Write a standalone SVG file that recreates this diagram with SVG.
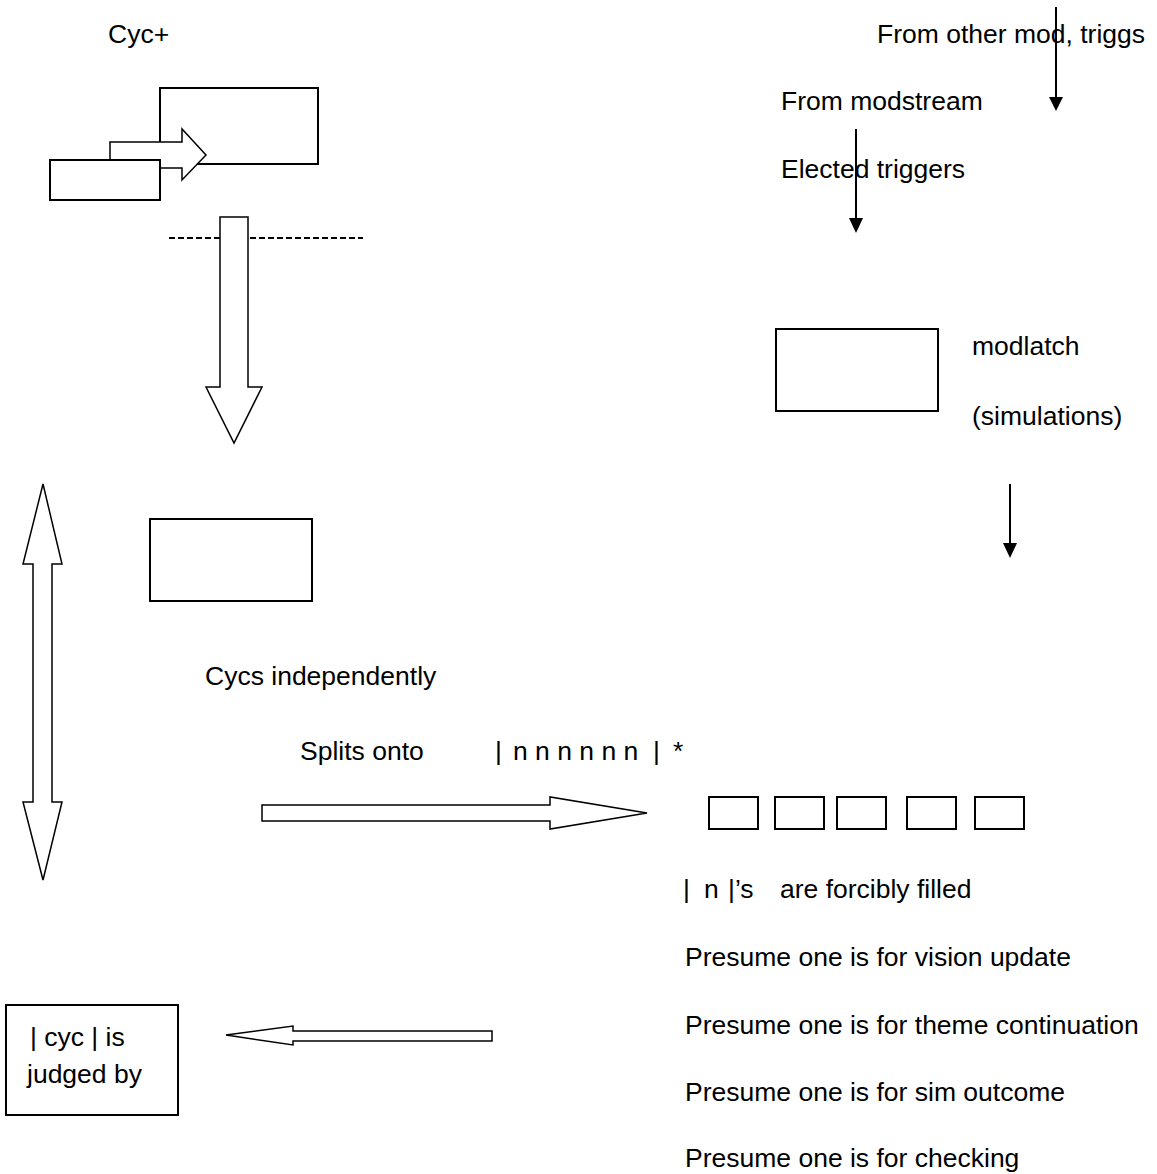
<svg xmlns="http://www.w3.org/2000/svg" width="1157" height="1174" viewBox="0 0 1157 1174">
<style>
  text { font-family: "Liberation Sans", Arial, sans-serif; font-size: 26.5px; fill: #000; }
  .box { fill: #fff; stroke: #000; stroke-width: 2; }
  .block { fill: #fff; stroke: #000; stroke-width: 1.5; stroke-linejoin: miter; }
  .thin { stroke: #000; stroke-width: 2; fill: none; }
  .head { fill: #000; stroke: none; }
  .dash { stroke: #000; stroke-width: 2; stroke-dasharray: 6 3; fill: none; }
</style>
<rect width="1157" height="1174" fill="#fff"/>

<g id="label-cyc-plus"><text x="108" y="43">Cyc+</text></g>

<g id="cyc-block">
  <rect class="box" x="160" y="88" width="158" height="76"/>
  <path class="block" d="M110,168 L110,142 L182,142 L182,129 L206,155 L182,180 L182,168 Z"/>
  <rect class="box" x="50" y="160" width="110" height="40"/>
</g>

<g id="dashed-divider">
  <line class="dash" x1="169" y1="238" x2="363" y2="238"/>
</g>

<g id="mid-box"><rect class="box" x="150" y="519" width="162" height="82"/></g>

<g id="modlatch">
  <rect class="box" x="776" y="329" width="162" height="82"/>
  <text x="972" y="355">modlatch</text>
  <text x="972" y="425">(simulations)</text>
</g>

<g id="labels-top-right">
  <text x="877" y="43">From other mod, triggs</text>
  <text x="781" y="110">From modstream</text>
  <text x="781" y="178">Elected triggers</text>
</g>

<g id="labels-middle">
  <text x="205" y="685">Cycs independently</text>
  <text x="300" y="760">Splits onto</text>
  <text y="760"><tspan x="495">|</tspan><tspan x="513">n n n n n n</tspan><tspan x="653">|</tspan><tspan x="673">*</tspan></text>
</g>

<g id="slots">
  <rect class="box" x="709" y="797" width="49" height="32"/>
  <rect class="box" x="775" y="797" width="49" height="32"/>
  <rect class="box" x="837" y="797" width="49" height="32"/>
  <rect class="box" x="907" y="797" width="49" height="32"/>
  <rect class="box" x="975" y="797" width="49" height="32"/>
</g>

<g id="notes">
  <text y="898"><tspan x="683">|</tspan><tspan x="704">n</tspan><tspan x="728">|’s</tspan><tspan x="780">are forcibly filled</tspan></text>
  <text x="685" y="966">Presume one is for vision update</text>
  <text x="685" y="1034">Presume one is for theme continuation</text>
  <text x="685" y="1101">Presume one is for sim outcome</text>
  <text x="685" y="1167">Presume one is for checking</text>
</g>

<g id="judge-box">
  <rect class="box" x="6" y="1005" width="172" height="110"/>
  <text x="30" y="1046">| cyc | is</text>
  <text x="27" y="1083">judged by</text>
</g>

<g id="connectors">
  <path class="block" d="M220,217 L248,217 L248,387 L262,387 L234,443 L206,387 L220,387 Z"/>
  <path class="block" d="M43,484 L62,564 L52,564 L52,802 L62,802 L43,880 L23,802 L33,802 L33,564 L23,564 Z"/>
  <path class="block" d="M262,805 L550,805 L550,797 L647,813 L550,829 L550,821 L262,821 Z"/>
  <path class="block" d="M492,1031 L293,1031 L293,1026 L226,1035 L293,1045 L293,1041 L492,1041 Z"/>
  <line class="thin" x1="1056" y1="7" x2="1056" y2="98"/>
  <polygon class="head" points="1049,97 1063,97 1056,111"/>
  <line class="thin" x1="856" y1="129" x2="856" y2="219"/>
  <polygon class="head" points="849,218 863,218 856,233"/>
  <line class="thin" x1="1010" y1="484" x2="1010" y2="544"/>
  <polygon class="head" points="1003,543 1017,543 1010,558"/>
</g>
</svg>
